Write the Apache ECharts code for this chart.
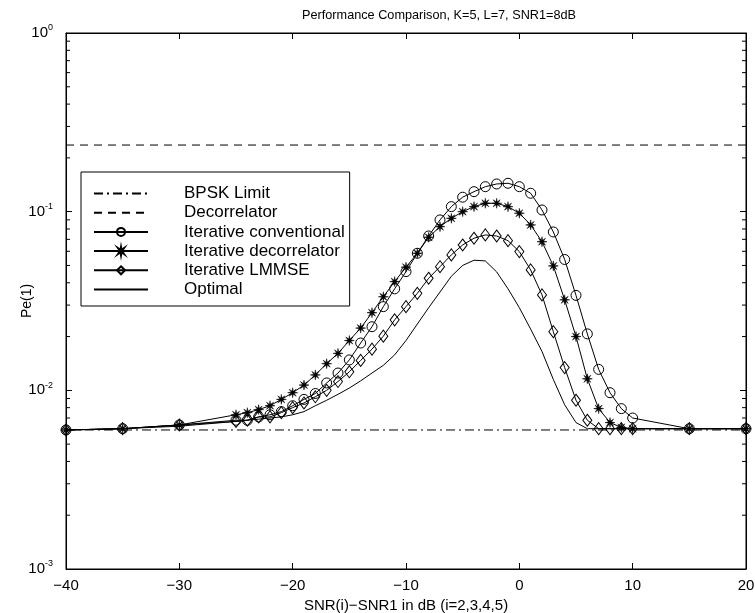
<!DOCTYPE html>
<html>
<head>
<meta charset="utf-8">
<script src="https://cdn.jsdelivr.net/npm/echarts@6/dist/echarts.min.js"></script>
<style>
html,body{margin:0;padding:0;background:#fff;}
#chart{width:755px;height:613px;}
</style>
</head>
<body>
<div id="chart"></div>
<script>
// ---- data ----
const xValues = [-40,-35,-30,-25,-24,-23,-22,-21,-20,-19,-18,-17,-16,-15,-14,-13,-12,-11,-10,-9,-8,-7,-6,-5,-4,-3,-2,-1,0,1,2,3,4,5,6,7,8,9,10,15,20];
const iterConventional = [0.0060,0.0061,0.0064,0.0068,0.0068,0.0071,0.0073,0.0076,0.0082,0.0089,0.0096,0.0110,0.0125,0.0148,0.0184,0.0227,0.0294,0.0370,0.0462,0.0585,0.0731,0.0899,0.1067,0.1205,0.1294,0.1380,0.1429,0.1442,0.1380,0.1268,0.1022,0.0770,0.0540,0.0340,0.0207,0.0131,0.0097,0.0079,0.0070,0.0061,0.0061];
const iterDecorrelator = [0.0060,0.0061,0.0064,0.0073,0.0075,0.0078,0.0082,0.0089,0.0097,0.0107,0.0122,0.0141,0.0161,0.0190,0.0223,0.0272,0.0334,0.0406,0.0489,0.0585,0.0719,0.0824,0.0918,0.1000,0.1067,0.1114,0.1114,0.1067,0.0980,0.0843,0.0679,0.0497,0.0321,0.0200,0.0116,0.0079,0.0066,0.0062,0.0061,0.0061,0.0061];
const iterLMMSE = [0.0060,0.0061,0.0064,0.0067,0.0068,0.0071,0.0071,0.0075,0.0080,0.0085,0.0092,0.0100,0.0112,0.0127,0.0147,0.0170,0.0201,0.0248,0.0294,0.0349,0.0424,0.0492,0.0573,0.0651,0.0710,0.0741,0.0731,0.0688,0.0598,0.0472,0.0342,0.0213,0.0134,0.0088,0.0068,0.0061,0.0061,0.0061,0.0061,0.0061,0.0061];
const optimal = [0.0060,0.0061,0.0063,0.0067,0.0068,0.0069,0.0070,0.0071,0.0073,0.0076,0.0082,0.0088,0.0095,0.0103,0.0113,0.0125,0.0138,0.0158,0.0190,0.0235,0.0290,0.0355,0.0435,0.0500,0.0535,0.0530,0.0460,0.0370,0.0290,0.0220,0.0165,0.0115,0.0083,0.0066,0.0061,0.0061,0.0061,0.0061,0.0061,0.0061,0.0061];
const limitX = [-40, 20];
const bpskLimit = [0.006, 0.006];
const decorrelator = [0.236, 0.236];
const xTicks = [-40,-30,-20,-10,0,10,20];
const yDecades = [1, 0.1, 0.01, 0.001];
const seriesNames = ['BPSK Limit','Decorrelator','Iterative conventional','Iterative decorrelator','Iterative LMMSE','Optimal'];
const titleText = 'Performance Comparison, K=5, L=7, SNR1=8dB';
const xName = 'SNR(i)\u2212SNR1 in dB (i=2,3,4,5)';
const yName = 'Pe(1)';

// ---- helpers ----
function pairs(xs, ys){ return xs.map((x,i)=>[x, ys[i]]); }
const minorVals = [];
[0.001,0.01,0.1].forEach(d=>{ for(let k=2;k<=9;k++) minorVals.push([-40, +(k*d).toPrecision(3)]); });

// asterisk-like star symbol
let pts = [];
for (let i=0;i<16;i++){
  const a = Math.PI*2*i/16 - Math.PI/2;
  const r = (i%2===0) ? 50 : 16;
  pts.push((50+r*Math.cos(a)).toFixed(2)+' '+(50+r*Math.sin(a)).toFixed(2));
}
const starPath = 'path://M' + pts.join(' L') + ' Z';

const FONT = 'Liberation Sans, Arial, Helvetica, sans-serif';
const chart = echarts.init(document.getElementById('chart'));

function yLabel(v){
  const e = Math.round(Math.log10(v));
  const s = e === 0 ? '0' : '-' + (-e);
  return '{b|10}{s|' + s + '}';
}

const axisLine = {show:true, onZero:false, lineStyle:{color:'#000', width:1}};
const noSym = {itemStyle:{opacity:0}};
const option = {
  animation: false,
  backgroundColor: '#fff',
  title: {
    text: titleText, left: 434, top: 4, textAlign: 'center',
    textStyle: {fontFamily: FONT, fontSize: 12.7, fontWeight: 'normal', color: '#000'}
  },
  grid: {left: 66, right: 9, top: 33, bottom: 44, outerBoundsMode: 'none', containLabel: false,
    show: true, borderColor:'#000', borderWidth:1, backgroundColor:'transparent'},
  legend: {
    data: [
      Object.assign({name: seriesNames[0]}, noSym),
      Object.assign({name: seriesNames[1]}, noSym),
      {name: seriesNames[2]},
      {name: seriesNames[3]},
      {name: seriesNames[4]},
      Object.assign({name: seriesNames[5]}, noSym)
    ],
    orient: 'vertical', left: 81, top: 172,
    padding: [13, 5, 8, 12], itemGap: 2.2, itemWidth: 54, itemHeight: 10,
    backgroundColor: '#fff', borderColor: '#000', borderWidth: 1,
    textStyle: {fontFamily: FONT, fontSize: 17, lineHeight: 17, color: '#000', padding:[0,0,0,31]},
    selectedMode: false
  },
  xAxis: [{
    type: 'value', min: -40, max: 20, interval: 10, position: 'bottom',
    name: xName, nameLocation: 'middle', nameGap: 27,
    nameTextStyle: {fontFamily: FONT, fontSize: 15, color: '#000'},
    axisLine: axisLine,
    axisTick: {show:true, inside:true, length:6, lineStyle:{color:'#000'}},
    axisLabel: {fontFamily: FONT, fontSize: 15, color:'#000', margin: 9,
      formatter: v => (xTicks.indexOf(v) >= 0 ? (v < 0 ? '\u2212' + (-v) : '' + v) : '')},
    splitLine: {show:false}
  },{
    type: 'value', min: -40, max: 20, interval: 10, position: 'top',
    axisLine: axisLine,
    axisTick: {show:true, inside:true, length:6, lineStyle:{color:'#000'}},
    axisLabel: {show:false}, splitLine: {show:false}
  }],
  yAxis: [{
    type: 'log', min: 0.001, max: 1, logBase: 10, position: 'left',
    name: yName, nameLocation: 'middle', nameGap: 32, nameMoveOverlap: false,
    nameTextStyle: {fontFamily: FONT, fontSize: 14, color: '#000'},
    axisLine: axisLine,
    axisTick: {show:true, inside:true, length:6, lineStyle:{color:'#000'}},
    axisLabel: {fontFamily: FONT, color:'#000', margin: 13,
      formatter: v => (yDecades.some(d=>Math.abs(d-v)/d < 1e-6) ? yLabel(v) : ''),
      rich: {
        b: {fontFamily: FONT, fontSize: 15, color:'#000'},
        s: {fontFamily: FONT, fontSize: 9, color:'#000', padding:[0,0,10,0]}
      }},
    splitLine: {show:false}
  },{
    type: 'log', min: 0.001, max: 1, logBase: 10, position: 'right',
    axisLine: axisLine,
    axisTick: {show:true, inside:true, length:6, lineStyle:{color:'#000'}},
    axisLabel: {show:false}, splitLine: {show:false}
  }],
  series: [
    {
      name: 'BPSK Limit', type: 'line', data: pairs(limitX, bpskLimit), showSymbol: false, symbol:'none',
      color: '#000', lineStyle: {color:'#000', width:1, type:[9,4,2,4]}
    },
    {
      name: 'Decorrelator', type: 'line', data: pairs(limitX, decorrelator), showSymbol: false, symbol:'none',
      color: '#000', lineStyle: {color:'#000', width:1, type:[8,6]}
    },
    {
      name: 'Iterative conventional', type: 'line', data: pairs(xValues, iterConventional),
      symbol: 'circle', symbolSize: 10, showAllSymbol: true,
      color: '#000', lineStyle: {color:'#000', width:1},
      itemStyle: {color:'rgba(255,255,255,0)', borderColor:'#000', borderWidth:1}
    },
    {
      name: 'Iterative decorrelator', type: 'line', data: pairs(xValues, iterDecorrelator),
      symbol: starPath, symbolSize: 10, showAllSymbol: true,
      color: '#000', lineStyle: {color:'#000', width:1},
      itemStyle: {color:'#000', borderColor:'#000', borderWidth:0.5}
    },
    {
      name: 'Iterative LMMSE', type: 'line', data: pairs(xValues, iterLMMSE),
      symbol: 'diamond', symbolSize: [9, 12], showAllSymbol: true,
      color: '#000', lineStyle: {color:'#000', width:1},
      itemStyle: {color:'rgba(255,255,255,0)', borderColor:'#000', borderWidth:1}
    },
    {
      name: 'Optimal', type: 'line', data: pairs(xValues, optimal), showSymbol: false, symbol:'none',
      color: '#000', lineStyle: {color:'#000', width:1}
    },
    {
      type: 'custom', silent: true, data: minorVals,
      renderItem: function(params, api){
        const v = api.value(1);
        const p = api.coord([-40, v]);
        const q = api.coord([20, v]);
        return {type:'group', children:[
          {type:'line', shape:{x1:p[0], y1:p[1], x2:p[0]+4, y2:p[1]}, style:{stroke:'#000', lineWidth:1}},
          {type:'line', shape:{x1:q[0]-4, y1:q[1], x2:q[0], y2:q[1]}, style:{stroke:'#000', lineWidth:1}}
        ]};
      }
    }
  ]
};
chart.setOption(option);
</script>
</body>
</html>
